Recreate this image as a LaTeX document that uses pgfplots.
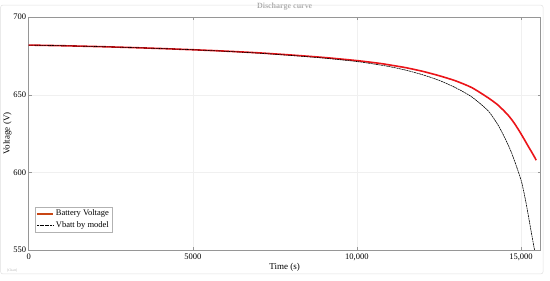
\documentclass[border=0pt]{standalone}
\usepackage{fontspec}
\setmainfont{Liberation Serif}
\usepackage{pgfplots}
\pgfplotsset{compat=1.18}
\usetikzlibrary{calc}
\definecolor{battred}{RGB}{235,20,25}
\definecolor{legbrown}{RGB}{200,70,20}
\definecolor{framegray}{RGB}{150,150,150}

\begin{document}
\begin{tikzpicture}
\begin{axis}[scale only axis,width=512.7pt,height=233pt,
  xmin=0,xmax=15600,ymin=550,ymax=700,
  scaled x ticks=false,
  xtick={0,5000,10000,15000},xticklabels={0,5000,{10,000},{15,000}},
  ytick={550,600,650,700},
  tick align=inside,major tick length=3pt,
  tick style={framegray,line width=0.4pt},
  axis line style={framegray,line width=0.6pt},
  grid=major,grid style={gray!12,line width=0.4pt},
  tick label style={font=\fontsize{8.5}{9}\selectfont},
  /pgf/number format/assume math mode=true,
  yticklabel style={/pgf/number format/1000 sep={},xshift=1pt},
  xlabel={Time (s)},ylabel={Voltage (V)},
  label style={font=\fontsize{9}{10}\selectfont},
  xlabel style={yshift=4pt},ylabel style={yshift=-5pt},
  title={Discharge curve},
  title style={font=\fontsize{8}{9}\selectfont\bfseries,color=gray!65,yshift=-3pt},
  legend style={at={(0.012,0.077)},anchor=south west,font=\fontsize{8.5}{9.5}\selectfont,
    draw=gray!60,inner sep=1pt,cells={anchor=west}},
  legend cell align=left,
  clip=true]
\addplot[battred,line width=1.6pt,smooth,tension=0.4,
  legend image code/.code={\draw[legbrown,line width=2pt] (0pt,0pt) -- (16pt,0pt);}] coordinates {
(0,682) (1000,681.6) (2000,681.1) (3000,680.5) (4000,679.8) (5000,679.0)
(6000,678.1) (7000,677.0) (8000,675.6) (9000,674.0) (10000,672.0)
(10700,670.2) (11000,669.2) (11500,667.4) (12000,665.1) (12500,662.3)
(13000,659.0) (13500,654.6) (14000,648.0) (14300,643.3) (14600,637.0)
(14800,631.5) (15000,624.8) (15200,617.5) (15400,610.3) (15460,607.8)};
\addlegendentry{Battery Voltage}
\addplot[black,line width=0.6pt,dash pattern=on 2pt off 0.6pt,smooth,tension=0.4,
  legend image code/.code={\draw[black,line width=0.6pt,dash pattern=on 2pt off 0.6pt] (0pt,0pt) -- (16pt,0pt);}] coordinates {
(0,682) (1000,681.6) (2000,681.1) (3000,680.5) (4000,679.8) (5000,679.0)
(6000,678.0) (7000,676.8) (8000,675.3) (9000,673.6) (10000,671.4)
(10700,669.2) (11000,668.1) (11500,665.8) (12000,662.9) (12500,659.3)
(13000,654.6) (13500,648.6) (14000,639.6) (14300,630.5) (14500,622.5)
(14700,613.2) (14900,601.5) (15024,593.2) (15130,582.8) (15226,571.8)
(15320,560.5) (15408,550.3) (15420,548.5)};
\addlegendentry{Vbatt by model}
\end{axis}
\draw[gray!25,line width=0.5pt,rounded corners=2pt]
  ($(current axis.south west)+(-28pt,-24pt)$) rectangle ($(current axis.north east)+(2.3pt,12pt)$);
\node[anchor=west,font=\fontsize{3.5}{4}\selectfont,text=gray!60] at ($(current axis.south west)+(-25pt,-20.5pt)$) {[Chart]};
\path ($(current axis.south west)+(-28pt,-31pt)$) rectangle ($(current axis.north east)+(9.3pt,14pt)$);
\end{tikzpicture}
\end{document}
